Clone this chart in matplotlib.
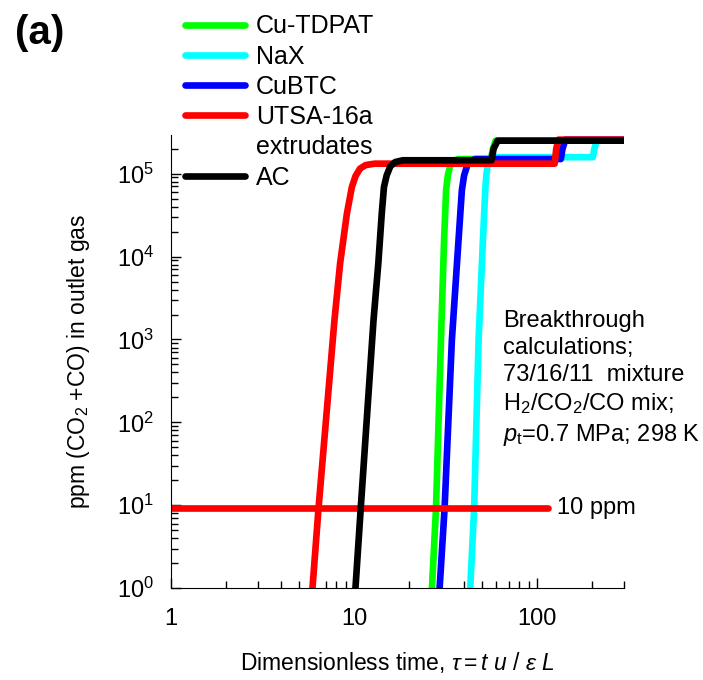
import matplotlib
matplotlib.use("Agg")
import matplotlib.pyplot as plt
from matplotlib.lines import Line2D
import matplotlib.ticker as mticker

plt.rcParams['font.family'] = ['Liberation Sans', 'DejaVu Sans']
plt.rcParams['mathtext.fontset'] = 'custom'
plt.rcParams['mathtext.rm'] = 'Liberation Sans'
plt.rcParams['mathtext.it'] = 'Liberation Sans:italic'
plt.rcParams['mathtext.bf'] = 'Liberation Sans:bold'

# breakthrough curves (tau, ppm)
cutdpat_x = [26.7, 28.1, 29.9, 31.1, 31.9, 32.6, 33.6, 35, 37, 56, 57.5, 59.5, 300]
cutdpat_y = [1, 9.2, 980, 15800, 63000, 95000, 125000, 142000, 150000, 150000, 200000, 250000, 250000]

nax_x = [43.2, 45.4, 48, 50.7, 52.2, 52.9, 53.9, 55.2, 57.5, 202, 206, 212, 300]
nax_y = [1, 9.2, 980, 15800, 63000, 95000, 130000, 150000, 158000, 158000, 200000, 250000, 250000]

cubtc_x = [29.4, 31.3, 34.3, 37.3, 38.9, 40, 41.6, 43.5, 46, 135, 138, 143, 300]
cubtc_y = [1, 9.2, 980, 15800, 63000, 95000, 125000, 142000, 150000, 150000, 200000, 257000, 257000]

utsa_x = [5.94, 6.41, 7.83, 8.41, 9.16, 9.75, 10.2, 10.8, 11.6, 13, 125, 127.5, 131, 300]
utsa_y = [1, 9.2, 1700, 8300, 33000, 69000, 93000, 115000, 127000, 132000, 132000, 200000, 257000, 257000]

ac_x = [10.2, 10.9, 12.8, 13.6, 14.2, 14.6, 15.1, 15.8, 16.8, 18.5, 56.5, 58, 61, 300]
ac_y = [1, 9.2, 1700, 8300, 33000, 69000, 95000, 122000, 138000, 145000, 145000, 200000, 250000, 250000]

ppm10_x = [1, 115]
ppm10_y = [9.2, 9.2]

fig = plt.figure(figsize=(7.03, 6.8), dpi=100)
ax = fig.add_axes([0.243, 0.135, 0.645, 0.666])

lw = 4.8
kw = dict(lw=lw, solid_capstyle='round', solid_joinstyle='round')
ax.plot(cutdpat_x, cutdpat_y, color='#00ff00', **kw)
ax.plot(nax_x, nax_y, color='#00ffff', **kw)
ax.plot(cubtc_x, cubtc_y, color='#0000ff', **kw)
ax.plot(utsa_x, utsa_y, color='#ff0000', **kw)
ax.plot(ppm10_x, ppm10_y, color='#ff0000', **kw)
ax.plot(ac_x, ac_y, color='black', **kw)

ax.set_xscale('log')
ax.set_yscale('log')
ax.set_xlim(1, 300)
ax.set_ylim(1, 2.9e5)

for s in ['top', 'right']:
    ax.spines[s].set_visible(False)

ax.xaxis.set_major_locator(mticker.FixedLocator([1, 10, 100]))
ax.xaxis.set_major_formatter(mticker.FixedFormatter(['1', '10', '100']))
ax.xaxis.set_minor_locator(mticker.LogLocator(base=10, subs=range(2, 10)))
ax.xaxis.set_minor_formatter(mticker.NullFormatter())
ax.yaxis.set_major_locator(mticker.LogLocator(base=10, numticks=10))
ax.yaxis.set_minor_locator(mticker.LogLocator(base=10, subs=range(2, 10), numticks=10))
ax.yaxis.set_minor_formatter(mticker.NullFormatter())
ax.tick_params(which='both', direction='in', labelsize=17)
ax.tick_params(which='major', length=7, width=1)
ax.tick_params(which='minor', length=5, width=1)
ax.tick_params(axis='x', pad=14)
ax.tick_params(axis='y', pad=12)

ax.set_xlabel(r'Dimensionless time, $\tau = t\ u\ /\ \varepsilon\ L$', fontsize=16.5, labelpad=15)
ax.set_ylabel(r'ppm (CO$_2$ +CO) in outlet gas', fontsize=16.5, labelpad=18)

ax.text(115 * 1.12, 9.2, '10 ppm', fontsize=17, va='center', ha='left')

ax.text(0.733, 0.615,
        'Breakthrough\ncalculations;\n73/16/11  mixture\nH$_2$/CO$_2$/CO mix;\n$p_\\mathrm{t}$=0.7 MPa; 298 K',
        transform=ax.transAxes, fontsize=17, va='top', ha='left', linespacing=1.3)

fig.text(0.057, 0.951, '(a)', fontsize=29, fontweight='bold', ha='center', va='center')

handles = [Line2D([], [], color='#00ff00', lw=lw, solid_capstyle='round'),
           Line2D([], [], color='#00ffff', lw=lw, solid_capstyle='round'),
           Line2D([], [], color='#0000ff', lw=lw, solid_capstyle='round'),
           Line2D([], [], color='#ff0000', lw=lw, solid_capstyle='round'),
           Line2D([], [], color='none', lw=lw),
           Line2D([], [], color='black', lw=lw, solid_capstyle='round')]
labels = ['Cu-TDPAT', 'NaX', 'CuBTC', 'UTSA-16a', 'extrudates', 'AC']
fig.legend(handles, labels, loc='upper left', bbox_to_anchor=(0.252, 0.99),
           frameon=False, fontsize=18, handlelength=2.4, handletextpad=0.45,
           labelspacing=0.25, borderpad=0.3, borderaxespad=0.0)

fig.savefig('out.png', dpi=100)
